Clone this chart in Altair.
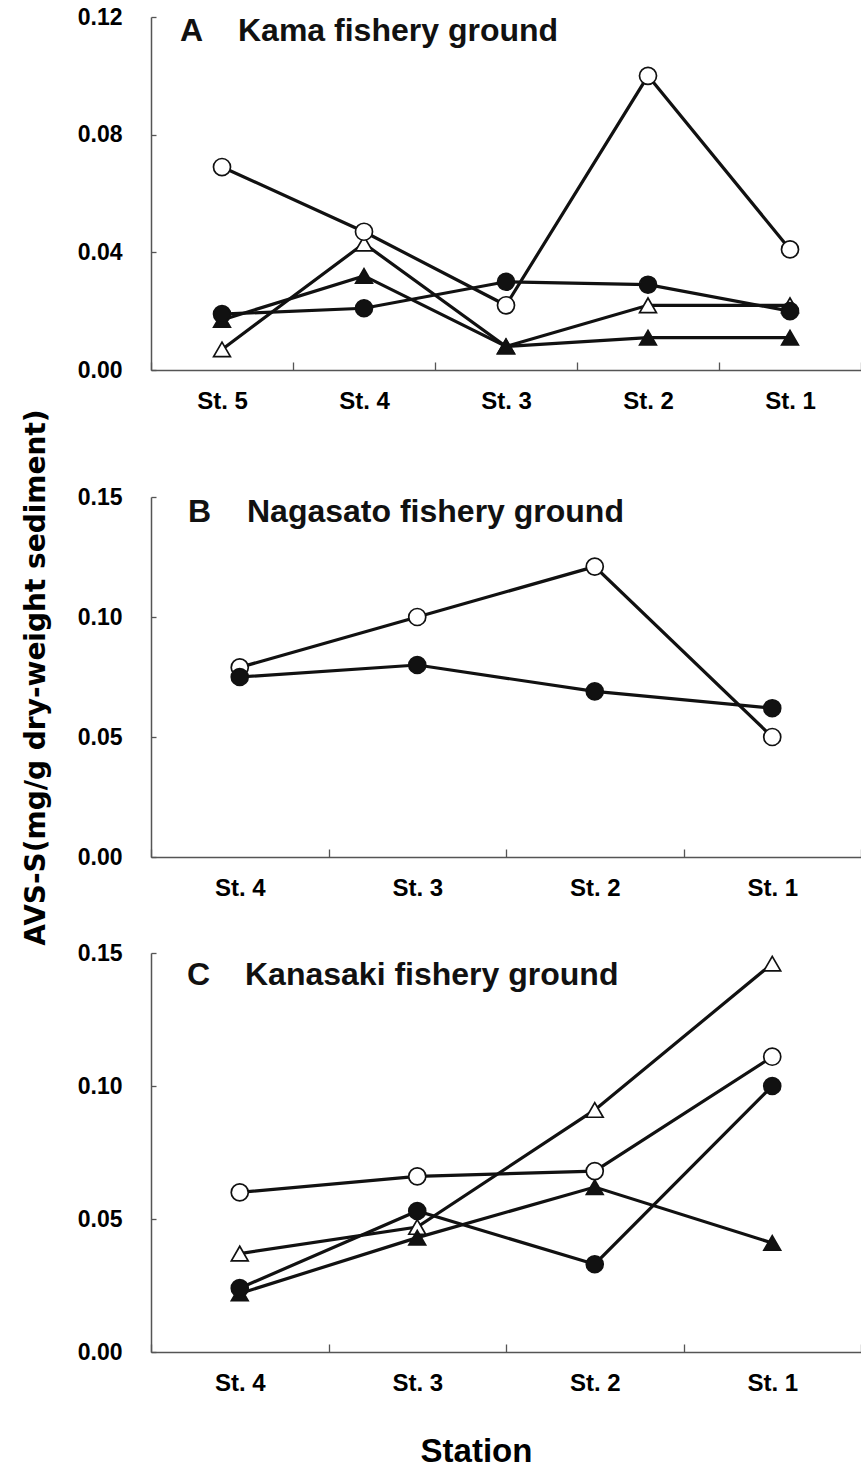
import altair as alt
import pandas as pd

# Sampling series: open circle, filled circle, open triangle, filled triangle
series = ["Series 1", "Series 2", "Series 3", "Series 4"]
series_shape = ["circle", "circle", "triangle-up", "triangle-up"]
series_fill = ["white", "#111111", "white", "#111111"]
series_size = [290, 280, 360, 360]
# circles are painted over triangles, filled marks over open ones
series_layer = [2, 3, 0, 1]

# A: Kama fishery ground
stations_a = ["St. 5", "St. 4", "St. 3", "St. 2", "St. 1"]
a_s1 = [0.069, 0.047, 0.022, 0.100, 0.041]
a_s2 = [0.019, 0.021, 0.030, 0.029, 0.020]
a_s3 = [0.007, 0.043, 0.008, 0.022, 0.022]
a_s4 = [0.017, 0.032, 0.008, 0.011, 0.011]

# B: Nagasato fishery ground
stations_b = ["St. 4", "St. 3", "St. 2", "St. 1"]
b_s1 = [0.079, 0.100, 0.121, 0.050]
b_s2 = [0.075, 0.080, 0.069, 0.062]

# C: Kanasaki fishery ground
stations_c = ["St. 4", "St. 3", "St. 2", "St. 1"]
c_s1 = [0.060, 0.066, 0.068, 0.111]
c_s2 = [0.024, 0.053, 0.033, 0.100]
c_s3 = [0.037, 0.047, 0.091, 0.146]
c_s4 = [0.022, 0.043, 0.062, 0.041]

y_ticks_a = [0.0, 0.04, 0.08, 0.12]
y_ticks_bc = [0.0, 0.05, 0.10, 0.15]

FONT = "Liberation Sans"
AXIS_COLOR = "#555555"
PANEL_W = 710


def long_table(stations, columns):
    rows = []
    for name, layer, vals in zip(series, series_layer, columns):
        for order, (st, v) in enumerate(zip(stations, vals)):
            rows.append({"series": name, "station": st, "order": order,
                         "layer": layer, "value": v})
    return pd.DataFrame(rows)


def panel(stations, columns, letter, name, y_ticks, height, letter_dx, name_dx,
          title_dy, y_title=None, x_title=None):
    df = long_table(stations, columns)

    x_axis = dict(
        labelAngle=0, labelFont=FONT, labelFontSize=24, labelFontWeight="bold",
        labelColor="black", labelPadding=19, ticks=False, tickSize=0,
        tickBand="extent", grid=True, gridColor=AXIS_COLOR, gridWidth=1.3,
        gridDash=[0, height - 8, 8, 3000], domainColor=AXIS_COLOR, domainWidth=1.5,
    )
    if x_title:
        x_axis.update(title=x_title, titleFont=FONT, titleFontSize=33,
                      titleFontWeight="bold", titleColor="black", titlePadding=40,
                      titleX=325, titleAlign="center")
    else:
        x_axis.update(title=None)

    y_axis = dict(
        values=y_ticks, format=".2f", labelFont=FONT, labelFontSize=23,
        labelFontWeight="bold", labelColor="black", labelPadding=29, ticks=False,
        tickSize=0, grid=True, gridColor=AXIS_COLOR, gridWidth=1.3,
        gridDash=[5, 3000], domainColor=AXIS_COLOR, domainWidth=1.5,
    )
    if y_title:
        y_axis.update(title=y_title, titleFont="DejaVu Sans", titleFontSize=28,
                      titleFontWeight="bold", titleColor="black", titlePadding=27)
    else:
        y_axis.update(title=None)

    x_enc = alt.X(
        "station:N", sort=stations,
        scale=alt.Scale(type="band", domain=stations, paddingInner=0, paddingOuter=0),
        axis=alt.Axis(**x_axis),
    )
    y_enc = alt.Y(
        "value:Q",
        scale=alt.Scale(domain=[y_ticks[0], y_ticks[-1]], nice=False, zero=True),
        axis=alt.Axis(**y_axis),
    )

    lines = alt.Chart(df).mark_line(color="#111111", strokeWidth=3.2).encode(
        x=x_enc, y=y_enc, detail="series:N", order="order:Q"
    )
    points = alt.Chart(df).mark_point(
        filled=True, stroke="#111111", strokeWidth=1.7, opacity=1
    ).encode(
        x=alt.X("station:N", sort=stations),
        y="value:Q",
        shape=alt.Shape("series:N", scale=alt.Scale(domain=series, range=series_shape), legend=None),
        fill=alt.Fill("series:N", scale=alt.Scale(domain=series, range=series_fill), legend=None),
        size=alt.Size("series:N", scale=alt.Scale(domain=series, range=series_size), legend=None),
        order=alt.Order("layer:Q"),
    )

    label_df = pd.DataFrame({"letter": [letter], "name": [name]})
    letter_mark = alt.Chart(label_df).mark_text(
        font=FONT, fontSize=32, fontWeight="bold", color="#111111",
        align="left", baseline="middle"
    ).encode(text="letter:N", x=alt.value(letter_dx), y=alt.value(title_dy))
    name_mark = alt.Chart(label_df).mark_text(
        font=FONT, fontSize=32, fontWeight="bold", color="#111111",
        align="left", baseline="middle"
    ).encode(text="name:N", x=alt.value(name_dx), y=alt.value(title_dy))

    return alt.layer(lines, points, letter_mark, name_mark).properties(
        width=PANEL_W, height=height
    ).resolve_scale(shape="independent", fill="independent", size="independent")


panel_a = panel(stations_a, [a_s1, a_s2, a_s3, a_s4], "A", "Kama fishery ground",
                y_ticks_a, 353, 29, 87, 14)
panel_b = panel(stations_b, [b_s1, b_s2], "B", "Nagasato fishery ground",
                y_ticks_bc, 360, 37, 96, 15,
                y_title="AVS-S(mg/g dry-weight sediment)")
panel_c = panel(stations_c, [c_s1, c_s2, c_s3, c_s4], "C", "Kanasaki fishery ground",
                y_ticks_bc, 399, 36, 94, 22, x_title="Station")

chart = alt.vconcat(
    panel_a,
    alt.vconcat(panel_b, panel_c, spacing=-4),
    spacing=-5,
).properties(
    padding={"left": 22, "top": 6, "right": 0, "bottom": 0},
    background="white",
).configure_view(strokeWidth=0)

chart.save("out.html", embed_options={"renderer": "svg", "actions": False})
